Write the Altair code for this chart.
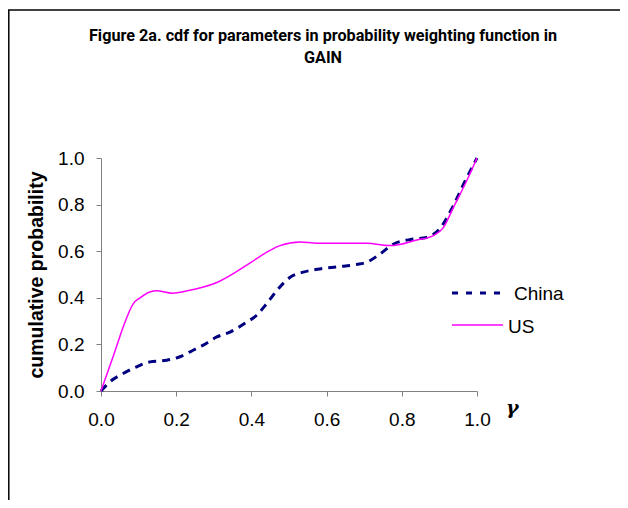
import altair as alt
import pandas as pd

# ---- data ----
china_x = [0.0, 0.024, 0.059, 0.095, 0.13, 0.175, 0.21, 0.245, 0.272, 0.308, 0.343, 0.388,
           0.414, 0.44, 0.467, 0.503, 0.538, 0.582, 0.63, 0.68, 0.707, 0.742, 0.777, 0.83,
           0.866, 0.90, 0.937, 0.964, 1.0]
china_y = [0.0, 0.04, 0.075, 0.104, 0.125, 0.132, 0.147, 0.175, 0.197, 0.232, 0.253, 0.296,
           0.325, 0.374, 0.43, 0.488, 0.51, 0.524, 0.533, 0.543, 0.553, 0.588, 0.63, 0.652,
           0.659, 0.695, 0.795, 0.887, 1.0]
us_x = [0.0, 0.037, 0.059, 0.086, 0.104, 0.13, 0.148, 0.19, 0.23, 0.27, 0.31, 0.40,
        0.44, 0.476, 0.53, 0.574, 0.707, 0.769, 0.84, 0.884, 0.91, 0.937, 0.972, 1.0]
us_y = [0.0, 0.17, 0.275, 0.375, 0.40, 0.425, 0.43, 0.42, 0.43, 0.445, 0.467, 0.553,
        0.595, 0.624, 0.64, 0.634, 0.634, 0.624, 0.648, 0.667, 0.70, 0.787, 0.90, 1.0]
series_names = ["China", "US"]
tick_values = [0.0, 0.2, 0.4, 0.6, 0.8, 1.0]
title_lines = ["Figure 2a. cdf for parameters in probability weighting function in", "GAIN"]
y_title = "cumulative probability"
x_symbol = "γ"

df = pd.concat([
    pd.DataFrame({"x": china_x, "y": china_y, "series": series_names[0]}),
    pd.DataFrame({"x": us_x, "y": us_y, "series": series_names[1]}),
])

FONT = "Liberation Sans"
AX = "#808080"
NAVY = "#000080"
MAG = "#FF00FF"

xscale = alt.Scale(domain=[0, 1], nice=False)
yscale = alt.Scale(domain=[0, 1], nice=False)

base = alt.Chart(df).encode(
    x=alt.X("x:Q", scale=xscale,
            axis=alt.Axis(values=tick_values, format=".1f", title=None, grid=False,
                          labelFont=FONT, labelFontSize=19, labelColor="#000000",
                          labelPadding=14, tickSize=5, tickColor=AX, domainColor=AX,
                          labelFlush=False)),
    y=alt.Y("y:Q", scale=yscale,
            axis=alt.Axis(values=tick_values, format=".1f", title=y_title, grid=False,
                          labelFont=FONT, labelFontSize=19, labelColor="#000000",
                          labelPadding=12, tickSize=5, tickColor=AX, domainColor=AX,
                          titleFont=FONT, titleFontSize=19.5, titleFontWeight="bold",
                          titleColor="#000000", titlePadding=11, labelFlush=False)),
)

china = base.transform_filter(alt.datum.series == "China").mark_line(
    color=NAVY, strokeWidth=3, strokeDash=[8, 6], interpolate="monotone")
us = base.transform_filter(alt.datum.series == "US").mark_line(
    color=MAG, strokeWidth=1.5, interpolate="monotone")

one = alt.Data(values=[{}])

title = alt.Chart(one).mark_text(
    font="Roboto", fontSize=16.2, fontWeight="bold", align="center",
    baseline="alphabetic", lineHeight=22, color="#000000"
).encode(x=alt.value(222), y=alt.value(-117), text=alt.value(title_lines))

gamma = alt.Chart(one).mark_text(
    font="DejaVu Serif", fontSize=19, fontWeight="bold", fontStyle="italic", align="left",
    baseline="middle", color="#000000"
).encode(x=alt.value(405), y=alt.value(250), text=alt.value(x_symbol))

leg_china_line = alt.Chart(one).mark_rule(color=NAVY, strokeWidth=3, strokeDash=[6, 8]).encode(
    x=alt.value(351), x2=alt.value(404), y=alt.value(135))
leg_china_text = alt.Chart(one).mark_text(
    font=FONT, fontSize=19, align="left", baseline="middle", color="#000000"
).encode(x=alt.value(413), y=alt.value(136), text=alt.value(series_names[0]))
leg_us_line = alt.Chart(one).mark_rule(color=MAG, strokeWidth=1.5).encode(
    x=alt.value(351), x2=alt.value(402), y=alt.value(167))
leg_us_text = alt.Chart(one).mark_text(
    font=FONT, fontSize=19, align="left", baseline="middle", color="#000000"
).encode(x=alt.value(407), y=alt.value(169), text=alt.value(series_names[1]))

border_top = alt.Chart(one).mark_rule(color="#000000", strokeWidth=1.5).encode(
    x=alt.value(-93), x2=alt.value(519), y=alt.value(-148))
border_left = alt.Chart(one).mark_rule(color="#000000", strokeWidth=1.5).encode(
    x=alt.value(-92.2), y=alt.value(-148), y2=alt.value(342))

chart = alt.layer(
    china, us, title, gamma, leg_china_line, leg_china_text, leg_us_line, leg_us_text,
    border_top, border_left
).properties(
    width=376, height=233,
    padding={"left": 93, "top": 150, "right": 143, "bottom": 109},
    autosize=alt.AutoSizeParams(type="none"),
    background="#ffffff",
).configure_view(stroke=None)

chart.save("out.html", embed_options={"renderer": "svg", "actions": False})
